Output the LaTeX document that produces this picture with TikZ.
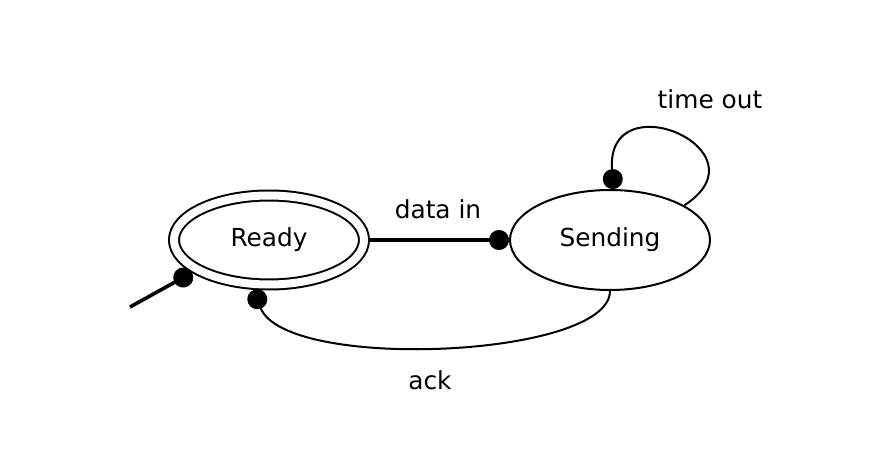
\documentclass[tikz,border=0pt]{standalone}
\usepackage{fontspec}
\setmainfont{DejaVu Sans}
\usetikzlibrary{shapes.geometric, arrows.meta}

\begin{document}
\begin{tikzpicture}[x=0.5pt,y=-0.5pt,
  state/.style={ellipse, draw, line width=1pt, inner sep=0pt, font=\fontsize{12.4}{14}\selectfont},
  label/.style={font=\fontsize{12.4}{14}\selectfont},
  heavy/.style={line width=1.8pt, -{Circle[length=10pt]}},
  light/.style={line width=1pt, -{Circle[length=10pt]}}]

\useasboundingbox (0,0) rectangle (884,476);

% states
\node[state, double, double distance=4pt, outer sep=3pt, minimum width=95pt, minimum height=44.5pt] (ready) at (269,240) {Ready};
\node[state, minimum width=100pt, minimum height=50pt] (sending) at (610,240) {Sending};

% initial transition
\coordinate (start) at (130,307);
\draw[heavy] (start) -- (ready.203);

% transitions
\draw[heavy] (ready.east) -- (sending.west);
\node[label] (datain) at (438,209) {data in};

\draw[light] (sending.25) .. controls (770,150) and (605,80) .. (sending.86);
\node[label] (timeout) at (710,99) {time out};

\draw[light] (sending.south) .. controls (610,358) and (285,372) .. (ready.253);
\node[label] (ack) at (430,380) {ack};

\end{tikzpicture}
\end{document}
